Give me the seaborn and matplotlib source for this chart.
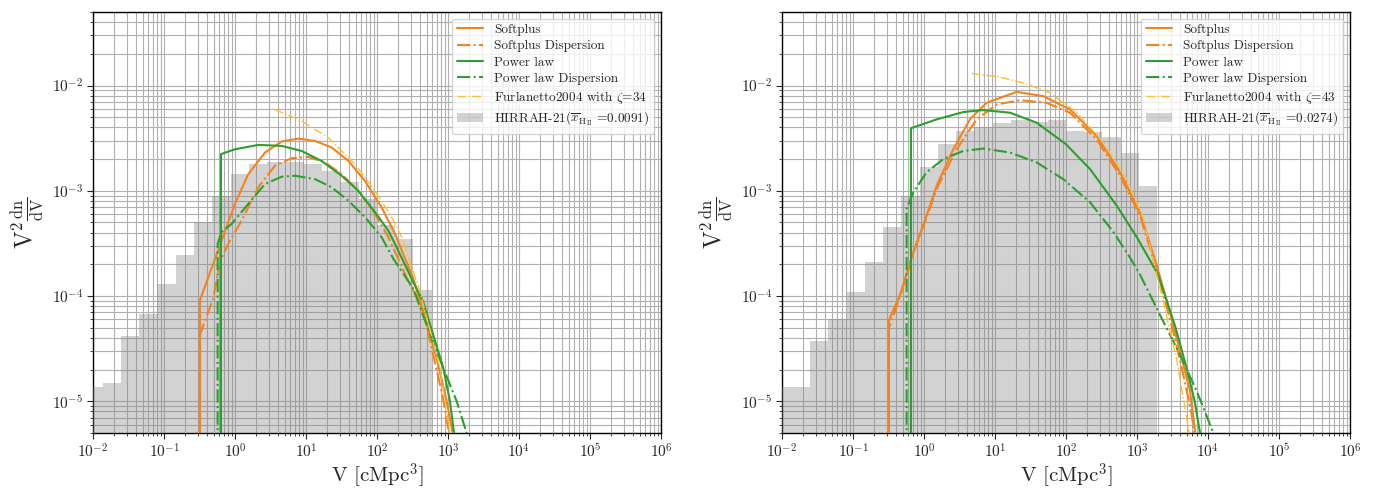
import numpy as np
import matplotlib
matplotlib.use("Agg")
import matplotlib.pyplot as plt
from matplotlib.patches import Patch
from matplotlib.lines import Line2D
import seaborn as sns

# ---------------- data ----------------
# shared histogram bin edges [cMpc^3]
bin_edges = [0.00759, 0.01371, 0.02480, 0.04485, 0.08111, 0.1467, 0.2655, 0.4801,
             0.8686, 1.571, 2.842, 5.140, 9.298, 16.82, 30.42, 55.03, 99.5, 180.0,
             325.6, 589.0, 1066.0, 1928.0]

left_hist = [1.37e-5, 1.49e-5, 4.2e-5, 6.7e-5, 1.29e-4, 2.47e-4, 5.0e-4, 9.0e-4,
             1.44e-3, 1.79e-3, 1.88e-3, 1.86e-3, 1.79e-3, 1.55e-3, 1.22e-3, 8.4e-4,
             4.7e-4, 3.5e-4, 1.14e-4]
right_hist = [1.37e-5, 1.37e-5, 3.77e-5, 6.1e-5, 1.1e-4, 2.1e-4, 4.55e-4, 9.0e-4,
              1.67e-3, 2.77e-3, 3.7e-3, 4.03e-3, 4.44e-3, 4.67e-3, 4.5e-3, 4.67e-3,
              3.7e-3, 3.6e-3, 3.27e-3, 2.31e-3, 1.1e-3]

# left panel curves
L_sp_V = [0.321, 0.321, 0.650, 1.0, 1.54, 2.65, 4.55, 7.80, 13.4, 23.0, 39.5, 67.8, 116, 179,
          324, 449, 693, 959, 1165, 1320]
L_sp_y = [1e-8, 9.1e-5, 3.37e-4, 7.5e-4, 1.44e-3, 2.31e-3, 2.94e-3, 3.13e-3, 2.98e-3, 2.58e-3,
          1.93e-3, 1.24e-3, 6.98e-4, 3.91e-4, 1.47e-4, 7.1e-5, 2.57e-5, 1.0e-5, 5e-6, 2e-6]
L_spd_V = [0.321, 0.321, 0.494, 0.615, 0.805, 1.24, 2.13, 3.66, 6.29, 10.8, 18.5, 31.8, 54.6,
           93.7, 144, 189, 292, 403, 501, 635, 851, 1033, 1150]
L_spd_y = [1e-8, 4.26e-5, 9.5e-5, 2.1e-4, 3.14e-4, 5.21e-4, 1.08e-3, 1.73e-3, 2.04e-3, 2.10e-3,
           1.86e-3, 1.44e-3, 1.0e-3, 6.04e-4, 3.64e-4, 2.44e-4, 1.27e-4, 8.8e-5, 5.3e-5, 2.57e-5,
           1.08e-5, 5e-6, 2e-6]
L_pl_V = [0.635, 0.635, 1.0, 2.13, 4.55, 8.70, 16.6, 31.8, 54.6, 93.7, 144, 179, 324, 449, 621,
          859, 1067, 1216, 1350]
L_pl_y = [1e-8, 2.23e-3, 2.48e-3, 2.73e-3, 2.67e-3, 2.39e-3, 1.92e-3, 1.39e-3, 1.0e-3, 6.27e-4,
          4.2e-4, 3.14e-4, 1.36e-4, 8.8e-5, 4.27e-5, 2.07e-5, 1.0e-5, 5e-6, 2e-6]
L_pld_V = [0.570, 0.570, 0.650, 0.90, 1.54, 2.65, 4.55, 7.0, 13.4, 23.0, 39.5, 67.8, 116, 170,
           324, 501, 859, 1327, 1832, 2090]
L_pld_y = [1e-8, 3.14e-4, 4.06e-4, 4.85e-4, 7.5e-4, 1.16e-3, 1.36e-3, 1.39e-3, 1.29e-3, 1.08e-3,
           8.05e-4, 5.62e-4, 3.63e-4, 2.26e-4, 1.18e-4, 5.3e-5, 2.07e-5, 1.0e-5, 5e-6, 3e-6]
L_fz_V = [3.66, 8.70, 20.6, 49.0, 93.7, 161, 223, 403, 771, 1067, 1200]
L_fz_y = [5.93e-3, 4.6e-3, 3.2e-3, 1.79e-3, 1.0e-3, 5.62e-4, 3.64e-4, 1.10e-4, 2.07e-5, 5e-6, 2e-6]

# right panel curves
R_sp_V = [0.321, 0.321, 0.459, 0.708, 1.09, 1.51, 2.59, 4.44, 7.64, 20.2, 47.9, 114, 270, 577,
          1102, 1892, 2917, 4036, 5585, 6566, 7300]
R_sp_y = [1e-8, 5.9e-5, 1.02e-4, 2.62e-4, 5.82e-4, 1.12e-3, 2.48e-3, 4.77e-3, 6.86e-3, 8.71e-3,
          7.93e-3, 5.93e-3, 3.32e-3, 1.50e-3, 6.27e-4, 1.96e-4, 7.1e-5, 2.98e-5, 1.25e-5, 5.2e-6, 2e-6]
R_spd_V = [0.321, 0.321, 0.459, 0.708, 1.09, 1.51, 2.88, 5.52, 10.6, 22.5, 53.4, 114, 270, 577,
           1102, 1995, 3243, 4487, 5890, 6400, 7000]
R_spd_y = [1e-8, 4.94e-5, 9.8e-5, 2.55e-4, 5.6e-4, 1.04e-3, 2.48e-3, 4.77e-3, 6.61e-3, 7.26e-3,
           6.86e-3, 5.52e-3, 3.09e-3, 1.39e-3, 5.82e-4, 1.58e-4, 4.6e-5, 1.79e-5, 7.5e-6, 5e-6, 2e-6]
R_pl_V = [0.656, 0.656, 1.51, 3.58, 6.86, 16.3, 38.6, 100, 218, 518, 1000, 1980, 3500, 5000, 6500, 7727, 8500]
R_pl_y = [1e-8, 3.93e-3, 4.77e-3, 5.6e-3, 5.85e-3, 5.52e-3, 4.44e-3, 2.77e-3, 1.61e-3, 7.23e-4,
          3.6e-4, 1.6e-4, 5.0e-5, 2.07e-5, 1.0e-5, 5e-6, 2e-6]
R_pld_V = [0.570, 0.570, 0.708, 1.09, 1.87, 3.58, 6.86, 16.3, 38.6, 91.6, 218, 465, 805, 1102,
           2109, 4036, 6930, 11900, 13500]
R_pld_y = [1e-8, 6.73e-4, 9.68e-4, 1.50e-3, 2.0e-3, 2.39e-3, 2.52e-3, 2.31e-3, 1.86e-3, 1.29e-3,
           7.78e-4, 4.06e-4, 2.3e-4, 1.6e-4, 6.6e-5, 2.77e-5, 1.25e-5, 5e-6, 3e-6]
R_fz_V = [4.70, 10.6, 25.1, 59.6, 142, 336, 716, 1228, 2109, 3622, 5458, 6200]
R_fz_y = [1.30e-2, 1.22e-2, 1.06e-2, 8.53e-3, 5.52e-3, 2.87e-3, 1.29e-3, 5.41e-4, 1.2e-4, 2.5e-5, 5e-6, 2e-6]

zeta_vals = ["34", "43"]
xhii_vals = ["0.0091", "0.0274"]

# ---------------- style ----------------
sns.set_style("ticks")
plt.rcParams["font.family"] = ["cmr10", "DejaVu Serif"]
plt.rcParams["mathtext.fontset"] = "cm"
plt.rcParams["axes.formatter.use_mathtext"] = True
plt.rcParams["axes.unicode_minus"] = False

c_or = "#f5821f"
c_gr = "#2ca02c"
c_ye = "#fdbf2d"
c_hist = "gray"

fig = plt.figure(figsize=(13.75, 4.9), dpi=100)
ax1 = fig.add_axes([0.0676, 0.1165, 0.4131, 0.859])
ax2 = fig.add_axes([0.5687, 0.1165, 0.4131, 0.859])

panels = [
    (ax1, left_hist, 20, [(L_sp_V, L_sp_y, c_or, "-", 1.5), (L_spd_V, L_spd_y, c_or, "-.", 1.5),
                          (L_pl_V, L_pl_y, c_gr, "-", 1.5), (L_pld_V, L_pld_y, c_gr, "-.", 1.5),
                          (L_fz_V, L_fz_y, c_ye, "-.", 1.0)], 0),
    (ax2, right_hist, 22, [(R_sp_V, R_sp_y, c_or, "-", 1.5), (R_spd_V, R_spd_y, c_or, "-.", 1.5),
                           (R_pl_V, R_pl_y, c_gr, "-", 1.5), (R_pld_V, R_pld_y, c_gr, "-.", 1.5),
                           (R_fz_V, R_fz_y, c_ye, "-.", 1.0)], 1),
]

for ax, hist, nedge, curves, k in panels:
    ax.set_xscale("log")
    ax.set_yscale("log")
    edges = np.array(bin_edges[:nedge])
    centers = np.sqrt(edges[:-1] * edges[1:])
    log_bins = [float(v) for v in np.log10(edges)]
    sns.histplot(x=list(centers), weights=list(hist), bins=log_bins, ax=ax, color=c_hist,
                 alpha=0.35, linewidth=0, element="bars", zorder=3)
    for V, y, c, ls, lw in curves:
        sns.lineplot(x=V, y=y, ax=ax, color=c, linestyle=ls, linewidth=lw,
                     estimator=None, sort=False, zorder=4)
    ax.set_xlim(1e-2, 1e6)
    ax.set_ylim(5e-6, 5e-2)
    ax.grid(True, which="both", color="#b0b0b0", linewidth=0.8)
    ax.set_axisbelow(True)
    for s in ax.spines.values():
        s.set_visible(True)
        s.set_color("black")
        s.set_linewidth(1.0)
    ax.tick_params(which="major", direction="out", length=4, width=0.8, labelsize=11, pad=3)
    ax.tick_params(which="minor", direction="out", length=2, width=0.6)
    ax.set_xticks([10.0 ** p for p in range(-2, 7)])
    ax.set_xlabel(r"V [cMpc$^3$]", fontsize=15, labelpad=0)
    ax.set_ylabel(r"$\mathrm{V^2\frac{dn}{dV}}$", fontsize=17)

    handles = [
        Line2D([], [], color=c_or, ls="-", lw=1.5),
        Line2D([], [], color=c_or, ls="-.", lw=1.5),
        Line2D([], [], color=c_gr, ls="-", lw=1.5),
        Line2D([], [], color=c_gr, ls="-.", lw=1.5),
        Line2D([], [], color=c_ye, ls="-.", lw=1.0),
        Patch(facecolor=c_hist, alpha=0.35, linewidth=0),
    ]
    labels = ["Softplus", "Softplus Dispersion", "Power law", "Power law Dispersion",
              r"Furlanetto2004 with $\zeta$=" + zeta_vals[k],
              r"HIRRAH-21($\overline{x}_{\rm H_{II}}$ =" + xhii_vals[k] + ")"]
    leg = ax.legend(handles, labels, loc="upper right", fontsize=9.5, frameon=True,
                    framealpha=0.8, edgecolor="0.8", fancybox=True, labelspacing=0.3)
    leg.set_zorder(10)

fig.savefig("out.png", dpi=100)
